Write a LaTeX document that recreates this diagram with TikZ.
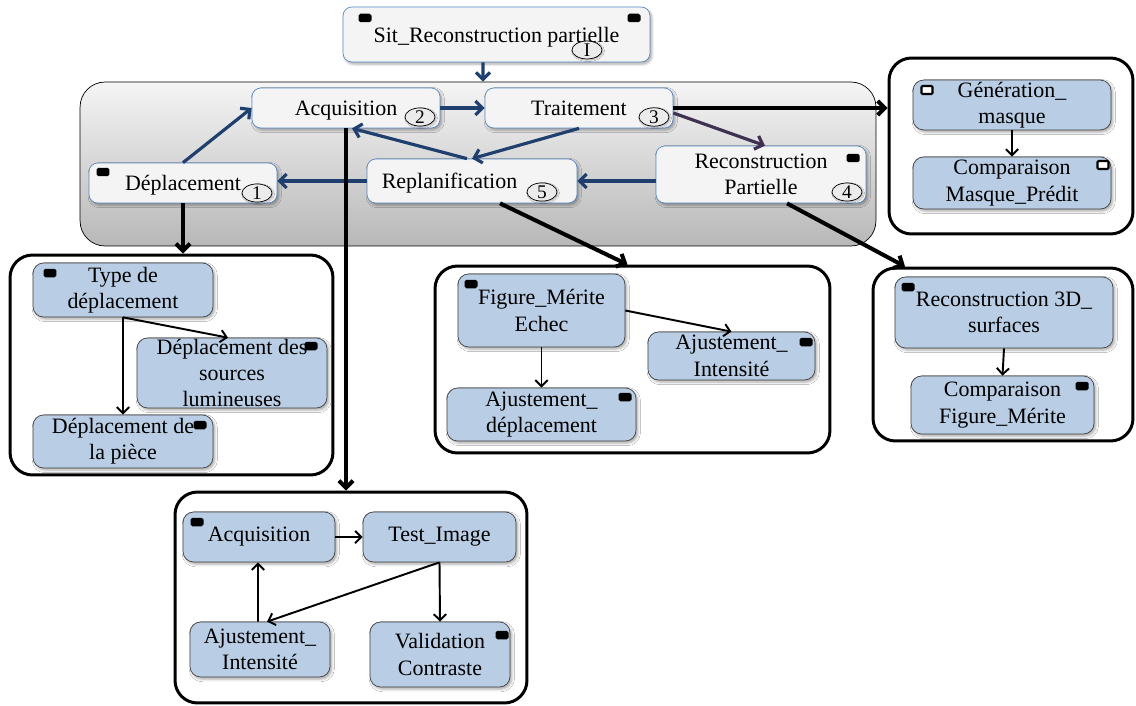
\documentclass[tikz,border=0pt]{standalone}
\usepackage{fontspec}
\setmainfont{Liberation Serif}
\usepackage{tikz}
\usetikzlibrary{shapes,arrows.meta,positioning,calc,shadows.blur,shapes.geometric}

\definecolor{phaseedge}{HTML}{5B8AC6}
\definecolor{phasefill}{HTML}{F4F4F4}
\definecolor{subfill}{HTML}{B9CDE5}
\definecolor{flowblue}{HTML}{1F3F6E}
\definecolor{flowpurple}{HTML}{3F3151}

\begin{document}
\begin{tikzpicture}[
  x=0.02cm, y=-0.02cm,
  font=\fontsize{12.5}{15}\selectfont,
  phase/.style={draw=phaseedge, fill=phasefill, rounded corners=5pt,
                inner sep=1pt, align=center, text depth=0pt,
                blur shadow={shadow xshift=1pt, shadow yshift=-1.2pt, shadow blur radius=1.5pt, shadow opacity=35}},
  subbox/.style={draw=black!75, fill=subfill, rounded corners=6pt,
                 inner sep=1pt, align=center,
                 blur shadow={shadow xshift=1pt, shadow yshift=-1.2pt, shadow blur radius=1.5pt, shadow opacity=35}},
  grpbox/.style={draw=black, line width=1.7pt, fill=white, rounded corners=0.45cm},
  badge/.style={ellipse, draw=black, fill=black!8, minimum width=0.6cm, minimum height=0.32cm,
                inner sep=0pt, font=\fontsize{11}{11}\selectfont,
                blur shadow={shadow xshift=0.6pt, shadow yshift=-0.6pt, shadow blur radius=0.8pt, shadow opacity=30}},
  flagsq/.style={fill=black, rounded corners=1pt, minimum width=0.26cm, minimum height=0.17cm, inner sep=0pt},
  holesq/.style={draw=black, line width=1.2pt, fill=white, rounded corners=0.6pt, minimum width=0.22cm, minimum height=0.16cm, inner sep=0pt},
  flowarr/.style={-{Straight Barb[length=4pt,width=8pt]}, line width=1.8pt, flowblue},
  bigarr/.style={-{Straight Barb[length=4pt,width=8pt]}, line width=2.3pt, black},
  thinarr/.style={-{Straight Barb[length=3.5pt,width=7pt]}, line width=1.1pt, black}
]
\useasboundingbox (0,0) rectangle (1136,706);

% cycle of the partial reconstruction
\node[draw=black, rounded corners=0.5cm, top color=black!4, bottom color=black!28,
      minimum width=15.92cm, minimum height=3.28cm] (cycle) at (478,164) {};

\node[phase, minimum width=6.14cm, minimum height=1.1cm] (sit) at (496.5,34.5) {Sit\_Reconstruction partielle};
\node[phase, minimum width=3.76cm, minimum height=0.8cm] (acq) at (346,108) {Acquisition};
\node[phase, minimum width=3.76cm, minimum height=0.8cm] (trt) at (579,108) {Traitement};
\node[phase, minimum width=3.76cm, minimum height=0.8cm] (dep) at (183,183) {Déplacement};
\node[phase, minimum width=4.2cm, minimum height=0.88cm] (rep) at (472,181) {Replanification\hspace*{0.9cm}};
\node[phase, minimum width=4.2cm, minimum height=1.14cm] (rec) at (761,174.5) {Reconstruction\\Partielle};

\node[badge] (bI) at (587,50) {I};
\node[badge] (b1) at (257,193) {1};
\node[badge] (b2) at (420,117) {2};
\node[badge] (b3) at (654,117) {3};
\node[badge] (b4) at (847,192) {4};
\node[badge] (b5) at (542,192) {5};

% groups
\node[grpbox, minimum width=4.88cm, minimum height=3.52cm] (grpM) at (1011,146) {};
\node[grpbox, minimum width=6.46cm, minimum height=4.4cm] (grpD) at (171.5,365) {};
\node[grpbox, minimum width=7.9cm, minimum height=3.74cm] (grpF) at (632.5,359.5) {};
\node[grpbox, minimum width=5.2cm, minimum height=3.46cm] (grpR) at (1003,354.5) {};
\node[grpbox, minimum width=7.04cm, minimum height=4.22cm] (grpA) at (351,597.5) {};

{\fontsize{11}{13}\selectfont
\node[subbox, minimum width=3.96cm, minimum height=0.96cm] (gen) at (1012,105) {Génération\_\\masque};
\node[subbox, minimum width=3.96cm, minimum height=1.04cm] (cmpm) at (1012,183) {Comparaison\\Masque\_Prédit};
}
\node[subbox, minimum width=3.6cm, minimum height=1.08cm] (typ) at (123,290) {Type de\\déplacement};
\node[subbox, minimum width=3.8cm, minimum height=1.4cm, inner ysep=0pt] (src) at (232,373)
  {\fontsize{12.5}{13.5}\selectfont Déplacement des\\sources\\lumineuses};
\node[subbox, minimum width=3.6cm, minimum height=1.06cm] (pie) at (123,441.5) {Déplacement de\\la pièce};
\node[subbox, minimum width=3.34cm, minimum height=1.46cm] (fig) at (541.5,310.5) {Figure\_Mérite\\Echec};
\node[subbox, minimum width=3.34cm, minimum height=0.96cm] (ajI) at (731.5,356) {Ajustement\_\\Intensité};
\node[subbox, minimum width=3.78cm, minimum height=1.06cm] (ajD) at (541.5,414.5) {Ajustement\_\\déplacement};
\node[subbox, minimum width=4.36cm, minimum height=1.42cm] (r3d) at (1004,312.5) {Reconstruction 3D\_\\surfaces};
\node[subbox, minimum width=3.66cm, minimum height=1.16cm] (cfm) at (1002.5,405) {Comparaison\\Figure\_Mérite};
\node[subbox, minimum width=3.04cm, minimum height=1.0cm] (bacq) at (259,537) {Acquisition};
\node[subbox, minimum width=3.06cm, minimum height=1.0cm] (tst) at (439.5,537) {Test\_Image};
\node[subbox, minimum width=2.8cm, minimum height=1.1cm] (bajI) at (260,649.5) {Ajustement\_\\Intensité};
\node[subbox, minimum width=2.8cm, minimum height=1.3cm] (val) at (440,654.5) {Validation\\Contraste};

% markers
\foreach \p [count=\i] in {(365,18),(634,18),(103,172),(853,158),(50,273),(311,346),(200,425),
    (471,284),(806,342),(625,397),(908,287),(1082,386),(197,522),(502,635)}
  \node[flagsq] (sq\i) at \p {};
\node[holesq] (hq1) at (927,90) {};
\node[holesq] (hq2) at (1103,165) {};

% cycle arrows
\draw[flowarr] ([xshift=-0.27cm]sit.south) -- ([xshift=0.1cm]cycle.north);
\draw[flowarr] (dep.north) -- (acq.west);
\draw[flowarr] (acq.east) -- (trt.west);
\draw[flowarr] (trt.south) -- (rep.north);
\draw[flowarr] ([xshift=-0.1cm]rep.north) -- ([xshift=0.12cm]acq.south);
\draw[flowarr] (rec.west |- rep.east) -- (rep.east);
\draw[flowarr] (rep.west) -- (dep.east |- rep.west);
\draw[flowarr, flowpurple] ([yshift=-0.1cm]trt.east) -- ([xshift=0.08cm]rec.north);

% links to the groups
\draw[bigarr] (trt.east) -- (trt.east -| grpM.west);
\draw[bigarr] (dep.south) -- (dep.south |- grpD.north);
\draw[bigarr] (acq.south) -- (acq.south |- grpA.north);
\draw[bigarr] ([xshift=0.56cm]rep.south) -- ([xshift=-0.1cm]grpF.north);
\draw[bigarr] ([xshift=0.52cm]rec.south) -- ([xshift=-1.96cm]grpR.north);

% inside the groups
\draw[thinarr] (gen.south) -- (cmpm.north);
\draw[thinarr] (typ.south) -- (pie.north);
\draw[thinarr] (typ.south) -- ([xshift=-0.08cm]src.north);
\draw[thinarr] (fig.south) -- (ajD.north);
\draw[thinarr] (fig.east) -- (ajI.north);
\draw[thinarr] (r3d.south) -- (cfm.north);
\draw[thinarr] (bacq.east) -- (tst.west);
\draw[thinarr] (tst.south) -- (val.north);
\draw[thinarr] (tst.south) -- ([xshift=0.14cm]bajI.north);
\draw[thinarr] ([xshift=-0.04cm]bajI.north) -- ([xshift=-0.02cm]bacq.south);
\end{tikzpicture}
\end{document}
